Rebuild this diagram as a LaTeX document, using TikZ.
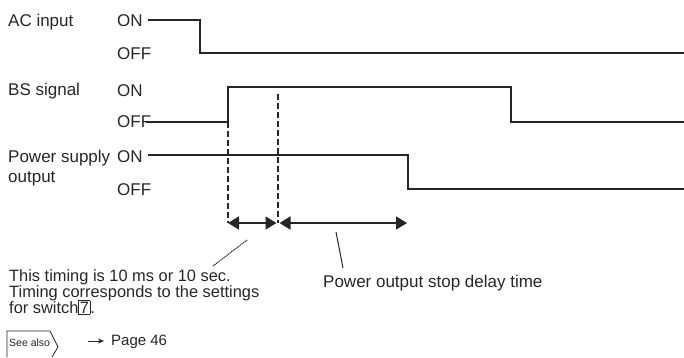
\documentclass[tikz,border=0pt]{standalone}
\usepackage{fontspec}
\setmainfont{Liberation Sans}
\usetikzlibrary{arrows.meta}

\tikzset{
  lbl/.style={anchor=base west, inner sep=0pt, text=black!85, font=\fontsize{17}{15}\selectfont},
  notetext/.style={lbl, font=\fontsize{16.4}{16}\selectfont},
  sig/.style={line width=1.7pt, draw=black!85},
  dashline/.style={line width=1.3pt, draw=black!85, dash pattern=on 6pt off 3pt},
  timearrow/.style={line width=1.7pt, draw=black!85, {Triangle[length=11pt,width=13pt]}-{Triangle[length=11pt,width=13pt]}},
  leader/.style={line width=1pt, draw=black!85}
}

\begin{document}
\begin{tikzpicture}[x=1pt, y=-1pt]

\useasboundingbox (0,0) rectangle (684,357);

% AC input
\node[lbl] (aclbl) at (8,26) {AC input};
\node[lbl] (acon) at (117,26) {ON};
\node[lbl] (acoff) at (117,59) {OFF};
\coordinate (ac0) at (148,20);
\coordinate (ac1) at (200,53);
\coordinate (ac2) at (684,53);
\draw[sig] (ac0) -| (ac1) -- (ac2);

% BS signal
\node[lbl] (bslbl) at (8,95) {BS signal};
\node[lbl] (bson) at (117,96) {ON};
\node[lbl] (bsoff) at (117,127) {OFF};
\coordinate (bs0) at (146,122);
\coordinate (bs1) at (228,87);
\coordinate (bs2) at (511,122);
\coordinate (bs3) at (684,122);
\draw[sig] (bs0) -| (bs1) -| (bs2) -- (bs3);

% Power supply output
\node[lbl] (pslbl) at (8,162) {Power supply};
\node[lbl] (pslbl2) at (8,182) {output};
\node[lbl] (pson) at (117,162) {ON};
\node[lbl] (psoff) at (117,195) {OFF};
\coordinate (ps0) at (148,155);
\coordinate (ps1) at (408,189);
\coordinate (ps2) at (684,189);
\draw[sig] (ps0) -| (ps1) -- (ps2);

% timing marks
\coordinate (d1) at (228,122);
\coordinate (d2) at (278,94);
\coordinate (t1) at (228,223);
\coordinate (t2) at (278,223);
\coordinate (t3) at (407,223);
\draw[dashline] (d1) -- (t1);
\draw[dashline] (d2) -- (t2);
\draw[timearrow] (t1) -- ([xshift=-1.5pt]t2);
\draw[timearrow] ([xshift=1.5pt]t2) -- (t3);

% notes
\node[notetext] (note1) at (9,281) {This timing is 10 ms or 10 sec.};
\node[notetext] (note2) at (9,297) {Timing corresponds to the settings};
\node[notetext] (note3) at (9,313) {for switch{\setlength{\fboxsep}{0.6pt}\setlength{\fboxrule}{0.8pt}\fbox{7}}.};
\node[lbl] (delay) at (323,287) {Power output stop delay time};
\coordinate (l1a) at (213,266);
\coordinate (l1b) at (247,240);
\coordinate (l2a) at (336,232);
\coordinate (l2b) at (343,268);
\draw[leader, dash pattern=on 1.2pt off 0.7pt] (l1a) -- (l1b);
\draw[leader] (l2a) -- (l2b);

% see also
\node[lbl, font=\fontsize{10.5}{12}\selectfont] (seealso) at (9,346) {See also};
\draw[line width=0.8pt, draw=black!85] (7,357) -- (7,331) -- (50,331) -- (58,347) -- (52,357);
\coordinate (pa0) at (88,341);
\node[lbl, font=\fontsize{15}{15}\selectfont] (page) at (111,345) {Page 46};
\draw[line width=0.8pt, draw=black!85, -{Stealth[length=6pt,width=5pt]}] (pa0) -- ([xshift=-7pt]page.west |- pa0);

\end{tikzpicture}
\end{document}
